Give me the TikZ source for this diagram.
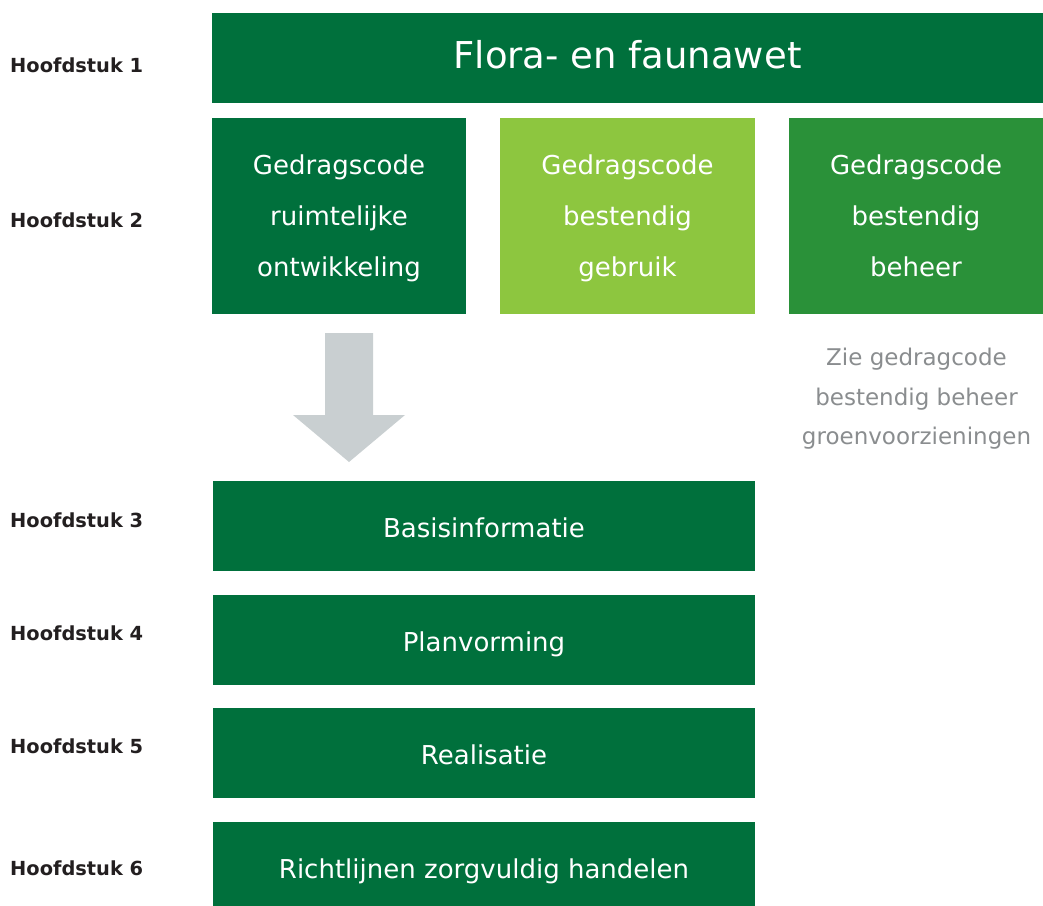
\documentclass[tikz,border=0pt]{standalone}
\usepackage{fontspec}
\setmainfont{DejaVu Sans}
\usetikzlibrary{calc}

\definecolor{donkergroen}{RGB}{0,112,60}
\definecolor{lichtgroen}{RGB}{141,198,63}
\definecolor{middengroen}{RGB}{42,145,57}
\definecolor{pijlgrijs}{RGB}{201,207,209}
\definecolor{tekstgrijs}{RGB}{138,141,143}
\definecolor{labelzwart}{RGB}{35,31,32}

\tikzset{
	vak/.style={rectangle, inner sep=0pt, text=white, align=center, text depth=0pt,
		font=\fontsize{26}{51}\selectfont},
	balk/.style={vak, fill=donkergroen, minimum width=542pt, minimum height=90pt, text height=23pt},
	hfst/.style={anchor=base west, inner sep=0pt, text=labelzwart,
		font=\fontsize{19.4}{23}\selectfont\bfseries}
}

\begin{document}
\begin{tikzpicture}[x=1pt, y=1pt]
			\useasboundingbox (0,0) rectangle (1043,-905);
			% hoofdstuk 1 en 2
			\node[vak, fill=donkergroen, minimum width=831pt, minimum height=90pt, text height=21pt,
				font=\fontsize{37}{44}\selectfont] (wet) at (627.5,-58) {Flora- en faunawet};
			\node[vak, fill=donkergroen, minimum width=254pt, minimum height=196pt] (ruimte) at (339,-216)
				{Gedragscode\\ruimtelijke\\ontwikkeling};
			\node[vak, fill=lichtgroen, minimum width=255pt, minimum height=196pt] (gebruik) at (627.5,-216)
				{Gedragscode\\bestendig\\gebruik};
			\node[vak, fill=middengroen, minimum width=254pt, minimum height=196pt] (beheer) at (916,-216)
				{Gedragscode\\bestendig\\beheer};
			\node[align=center, inner sep=0pt, text depth=0pt, text=tekstgrijs, font=\fontsize{23}{39.5}\selectfont]
				(zie) at (916.5,-396.5) {Zie gedragcode\\bestendig beheer\\groenvoorzieningen};
			% pijl
			\fill[pijlgrijs] (325,-333) -- (373,-333) -- (373,-415) -- (405,-415)
			              -- (349,-462) -- (293,-415) -- (325,-415) -- cycle;
			% hoofdstuk 3 t/m 6
			\node[balk] (basis) at (484,-526) {Basisinformatie};
			\node[balk] (plan) at (484,-640) {Planvorming};
			\node[balk] (real) at (484,-753) {Realisatie};
			\node[balk] (richt) at (484,-867) {Richtlijnen zorgvuldig handelen};
			% labels
			\node[hfst] (h1) at (10,-72) {Hoofdstuk 1};
			\node[hfst] (h2) at (10,-227) {Hoofdstuk 2};
			\node[hfst] (h3) at (10,-527) {Hoofdstuk 3};
			\node[hfst] (h4) at (10,-640) {Hoofdstuk 4};
			\node[hfst] (h5) at (10,-753) {Hoofdstuk 5};
			\node[hfst] (h6) at (10,-875) {Hoofdstuk 6};
		\end{tikzpicture}
\end{document}
